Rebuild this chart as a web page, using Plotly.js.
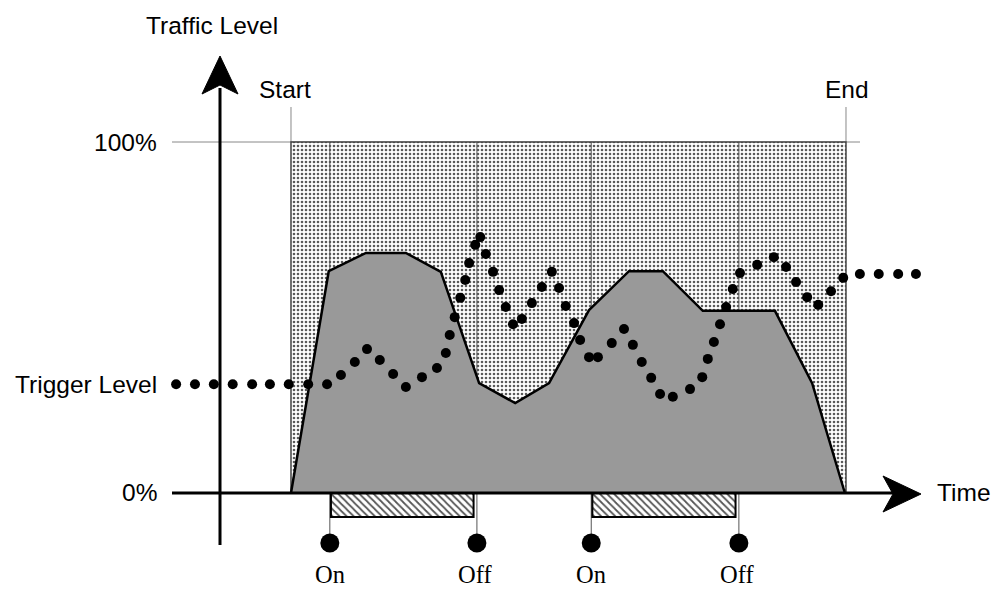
<!DOCTYPE html>
<html>
<head>
<meta charset="utf-8">
<script src="https://cdn.plot.ly/plotly-3.0.1.min.js"></script>
<style>html,body{margin:0;padding:0;background:#fff}#chart{width:1004px;height:590px}</style>
</head>
<body>
<div id="chart"></div>
<script>
// ---------------- data ----------------
const startTime = 0;
const endTime = 100;
const triggerLevel = 31;

const areaTime  = [0, 6.8, 13.5, 20.7, 27.0, 33.9, 40.4, 46.5, 53.7, 60.9, 67.0, 74.2, 87.2, 93.9, 99.8];
const areaLevel = [0, 63.2, 68.4, 68.4, 63.0, 31.3, 25.6, 31.3, 52.1, 63.2, 63.2, 51.9, 51.9, 31.3, 0];

const sampleTime = [-20.7, -17.3, -13.9, -10.5, -7.0, -3.8, -0.4, 3.1, 6.5,
  9.0, 11.5, 13.7, 16.0, 18.4, 20.7, 23.6, 26.3, 27.9, 28.6, 29.5, 30.5, 31.4, 32.1, 33.2, 34.1,
  35.1, 36.4, 37.5, 38.7, 40.0, 41.6, 43.4, 45.2, 47.0, 48.3, 49.5, 51.0, 52.1, 53.7, 55.3,
  57.8, 60.0, 61.6, 63.2, 64.9, 66.5, 68.8, 71.9, 74.1, 75.1, 76.2, 77.3, 78.4, 79.6, 80.9,
  84.0, 87.0, 89.2, 91.0, 93.0, 95.0, 97.3, 99.5, 102.5, 105.9, 109.4, 112.6];
const sampleLevel = [31, 31, 31, 31, 31, 31, 31, 31, 31,
  33.6, 37.3, 41.0, 37.9, 33.9, 30.2, 33.0, 35.6, 39.9, 45.0, 50.1, 55.6, 60.7, 65.5, 70.7, 72.9,
  68.1, 63.0, 57.8, 53.0, 48.1, 49.6, 54.1, 58.7, 63.0, 58.4, 53.3, 48.4, 43.6, 38.7, 38.7,
  42.7, 46.7, 42.2, 37.3, 32.8, 28.2, 27.4, 29.6, 33.0, 38.2, 43.0, 48.1, 53.0, 58.1, 62.7,
  65.0, 67.2, 64.4, 60.1, 55.8, 53.6, 57.5, 61.3, 62.4, 62.4, 62.4, 62.4];

const onTimes  = [7.0, 54.1];
const offTimes = [33.5, 80.7];
const switchLabels = ['On', 'Off', 'On', 'Off'];

const yTickVals = [0, triggerLevel, 100];
const yTickText = ['0%', 'Trigger Level', '100%'];
const xTitle = 'Time';
const yTitle = 'Traffic Level';
const boundLabels = ['Start', 'End'];

// ---------------- layout constants ----------------
const W = 1004, H = 590;
const X_RANGE = [-52.43, 128.47];
const Y_RANGE = [-27.64, 140.46];
const px2x = p => X_RANGE[0] + p / W * (X_RANGE[1] - X_RANGE[0]);
const py2y = p => Y_RANGE[1] - p / H * (Y_RANGE[1] - Y_RANGE[0]);
const PX = p => p / W, PY = p => 1 - p / H;

const CIRCLE_LEVEL = py2y(543);
const LABEL_LEVEL = py2y(574);
const BAR_BOTTOM = py2y(517);
const BOUND_TOP = py2y(107);
const SANS = 'Liberation Sans, Arial, sans-serif';
const SERIF = 'Liberation Serif, Times New Roman, serif';
const FS = 24.5;

const traces = [];

// stippled measurement window
traces.push({
  x: [startTime, endTime, endTime, startTime, startTime],
  y: [0, 0, 100, 100, 0],
  mode: 'lines', fill: 'toself',
  fillcolor: '#ffffff',
  fillpattern: {shape: '.', fgcolor: '#5a5a5a', bgcolor: '#ffffff', size: 4, solidity: 0.33},
  line: {color: '#444', width: 1.5},
  hoverinfo: 'skip', showlegend: false
});

// switching lines
const switchTimes = [];
onTimes.forEach((t, i) => { switchTimes.push(t, offTimes[i]); });
switchTimes.forEach(t => {
  traces.push({
    x: [t, t], y: [100, CIRCLE_LEVEL], mode: 'lines',
    line: {color: '#555', width: 1}, hoverinfo: 'skip', showlegend: false
  });
});

// traffic area
traces.push({
  x: areaTime, y: areaLevel, mode: 'lines', fill: 'toself',
  fillcolor: '#999999', line: {color: '#000', width: 2.5},
  hoverinfo: 'skip', showlegend: false
});

// active periods (hatched bars)
onTimes.forEach((t, i) => {
  const a = t + 0.2, b = offTimes[i] - 0.6;
  traces.push({
    x: [a, b, b, a, a], y: [0, 0, BAR_BOTTOM, BAR_BOTTOM, 0],
    mode: 'lines', fill: 'toself', fillcolor: '#ffffff',
    fillpattern: {shape: '\\', fgcolor: '#555', bgcolor: '#ffffff', size: 5, solidity: 0.35},
    line: {color: '#000', width: 2}, hoverinfo: 'skip', showlegend: false
  });
});

// sampled traffic (dots)
traces.push({
  x: sampleTime, y: sampleLevel, mode: 'markers',
  marker: {color: '#000', size: 10}, hoverinfo: 'skip', showlegend: false
});

// switch event markers
traces.push({
  x: switchTimes, y: switchTimes.map(() => CIRCLE_LEVEL), mode: 'markers',
  marker: {color: '#000', size: 19}, hoverinfo: 'skip', showlegend: false
});

const annotations = [];
switchTimes.forEach((t, i) => {
  annotations.push({x: t, y: LABEL_LEVEL, xref: 'x', yref: 'y', text: switchLabels[i],
    showarrow: false, xanchor: 'center', yanchor: 'middle', xshift: i % 2 ? -2 : 0,
    font: {family: SERIF, size: FS, color: '#000'}});
});
yTickVals.forEach((v, i) => {
  annotations.push({x: PX(159), y: v, xref: 'paper', yref: 'y', text: yTickText[i],
    showarrow: false, xanchor: 'right', yanchor: 'middle',
    font: {family: SANS, size: FS, color: '#000'}});
});
annotations.push({x: PX(212), y: PY(25), xref: 'paper', yref: 'paper', text: yTitle,
  showarrow: false, xanchor: 'center', yanchor: 'middle', font: {family: SANS, size: FS, color: '#000'}});
annotations.push({x: PX(935), y: 0, xref: 'paper', yref: 'y', text: xTitle,
  showarrow: false, xanchor: 'left', yanchor: 'middle', font: {family: SANS, size: FS, color: '#000'}});
[startTime, endTime].forEach((t, i) => {
  annotations.push({x: t, y: py2y(89), xref: 'x', yref: 'y', text: boundLabels[i],
    showarrow: false, xanchor: 'center', yanchor: 'middle', xshift: i === 0 ? -6 : 1,
    font: {family: SANS, size: FS, color: '#000'}});
});

const shapes = [];
// 100% gridline
shapes.push({type: 'line', xref: 'x', yref: 'y', x0: px2x(172), x1: px2x(860), y0: 100, y1: 100,
  line: {color: '#888', width: 1}, layer: 'below'});
// Start / End ticks above window
[startTime, endTime].forEach(t => {
  shapes.push({type: 'line', xref: 'x', yref: 'y', x0: t, x1: t, y0: 100, y1: BOUND_TOP,
    line: {color: '#888', width: 1}, layer: 'below'});
});
// axes
shapes.push({type: 'line', xref: 'x', yref: 'y', x0: px2x(172), x1: px2x(896), y0: 0, y1: 0,
  line: {color: '#000', width: 3}, layer: 'above'});
shapes.push({type: 'line', xref: 'paper', yref: 'paper', x0: PX(220), x1: PX(220), y0: PY(545), y1: PY(88),
  line: {color: '#000', width: 3}, layer: 'above'});
const path = pts => 'M ' + pts.map(p => PX(p[0]) + ',' + PY(p[1])).join(' L ') + ' Z';
shapes.push({type: 'path', xref: 'paper', yref: 'paper',
  path: path([[220, 56], [238, 94], [220, 85], [202, 94]]),
  fillcolor: '#000', line: {color: '#000', width: 1}, layer: 'above'});
shapes.push({type: 'path', xref: 'paper', yref: 'paper',
  path: path([[921, 494], [883, 512], [893, 494], [883, 476]]),
  fillcolor: '#000', line: {color: '#000', width: 1}, layer: 'above'});

const layout = {
  width: W, height: H,
  margin: {l: 0, r: 0, t: 0, b: 0, pad: 0},
  paper_bgcolor: '#fff', plot_bgcolor: '#fff',
  xaxis: {range: X_RANGE, visible: false, fixedrange: true},
  yaxis: {range: Y_RANGE, visible: false, fixedrange: true},
  showlegend: false,
  annotations: annotations,
  shapes: shapes
};

Plotly.newPlot('chart', traces, layout, {displayModeBar: false, staticPlot: true});
</script>
</body>
</html>
